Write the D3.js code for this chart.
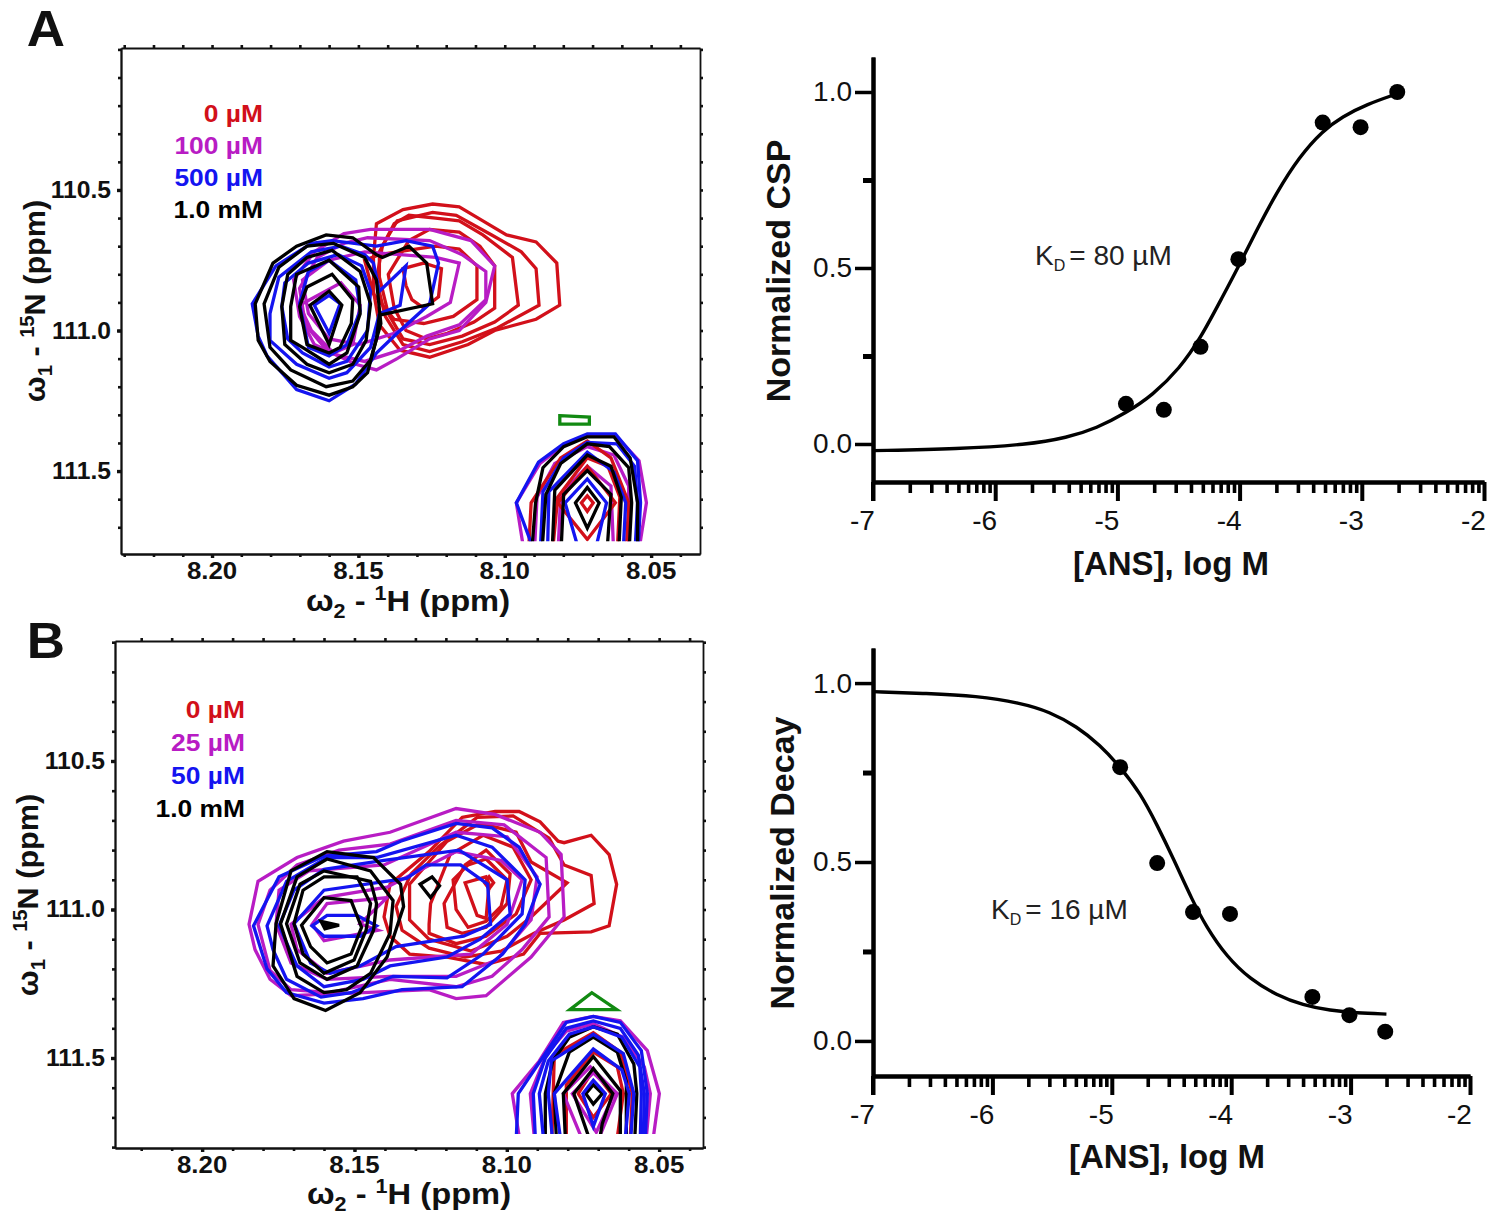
<!DOCTYPE html>
<html><head><meta charset="utf-8">
<script src="https://cdn.jsdelivr.net/npm/d3@7"></script>
<style>
html,body{margin:0;padding:0;background:#fff}
svg{display:block}
text{font-family:"Liberation Sans",Arial,sans-serif;fill:#111}
</style></head><body>
<svg id="c" width="1500" height="1214"></svg>
<script>
// ---------- colours / legends ----------
const RED="#d2101a", MAG="#b81cc4", BLUE="#1414f0", BLACK="#000", GREEN="#128a12";
const legendA=[["0 µM",RED],["100 µM",MAG],["500 µM",BLUE],["1.0 mM",BLACK]];
const legendB=[["0 µM",RED],["25 µM",MAG],["50 µM",BLUE],["1.0 mM",BLACK]];
const hTicks=[8.20,8.15,8.10,8.05];
const nTicks=[110.5,111.0,111.5];
// ---------- titration curves (x = log M) ----------
const doseX=[-4.93,-4.62,-4.32,-4.01,-3.32,-3.01,-2.71];
const cspY=[0.114,0.097,0.276,0.525,0.913,0.90,1.0];
const decayY=[0.765,0.497,0.36,0.355,0.123,0.072,0.026];
const cspCurve=[[-7,-0.019],[-6.3,-0.014],[-5.74,-0.002],[-5.41,0.018],[-5.17,0.045],[-4.93,0.088],[-4.71,0.139],[-4.49,0.215],[-4.32,0.30],[-4.14,0.418],[-4.01,0.503],[-3.86,0.608],[-3.70,0.713],[-3.51,0.817],[-3.32,0.89],[-3.16,0.93],[-2.96,0.965],[-2.71,0.995]];
const decayCurve=[[-7,0.976],[-6.55,0.971],[-6.13,0.964],[-5.77,0.945],[-5.52,0.92],[-5.29,0.878],[-5.10,0.827],[-4.93,0.766],[-4.76,0.692],[-4.62,0.603],[-4.485,0.51],[-4.32,0.389],[-4.21,0.32],[-4.04,0.236],[-3.84,0.172],[-3.62,0.128],[-3.40,0.10],[-3.17,0.085],[-2.95,0.078],[-2.70,0.075]];
const logMajor=[-7,-6,-5,-4,-3,-2];
const logMinorFactor=[2,3,4,5,6,7,8,9];
const yMajor=[0,0.5,1];
const yMinor=[0.25,0.75];
// ---------- peak reference positions [1H ppm, 15N ppm]; contours are [upfield 1H, 15N in 0.01 ppm] offsets ----------
const refA1=[8.16,110.9], refA2=[8.0718,111.613], refB1=[8.159,111.05], refB2=[8.0716,111.62];
const A1red=[
[[16,-28],[25,-33],[35,-35],[44,-34],[52,-29],[60,-24],[70,-21.5],[77,-14],[78,1],[70,6],[56,10],[47,15],[34,19.5],[24,17],[17,8],[15,-4],[15,-16]],
[[23,-29],[35,-32],[43,-31],[55,-24],[65,-18],[70,-12],[71,1],[57,9],[45,14],[34,17.5],[25,15],[19,5],[16,-8],[18,-20]],
[[22,-28],[27,-31],[36,-30],[44,-29],[52,-24],[62,-16],[64,1],[56,7],[45,12],[34,15],[25,13],[20,4],[17,-9],[17,-18]],
[[27,-22],[34,-26],[44,-25],[51,-20],[56,-13],[56,2],[49,7],[40,11],[33,13],[26,10],[22,2],[20,-10]],
[[12,-15],[17,-17],[36,-20],[44,-19],[50,-13],[50,-1],[42,5],[32,7.5],[22,6],[15,-3]],
[[25,-12],[32,-14],[38,-12],[37,-2],[32,2],[28,-1],[26,-6]]];
const A1mag=[
[[5,-24.5],[14,-26],[34,-26],[48,-22],[56,-13],[53,0],[44,10],[34,13],[23,20],[16,24],[9,22],[-5,15],[-10,5],[-12,-8],[-5,-18]],
[[13,-23],[34,-22],[45,-17],[53,-11],[53,-1],[44,8],[33,12],[24,17],[12,21],[0,18],[-8,8],[-10,-5],[-4,-16],[5,-21]],
[[36,-16],[44,-14],[41,0],[33,5],[22,11],[10,15],[0,13],[-7,4],[-9,-8],[0,-15],[12,-18]],
[[-10,1],[-6,10],[1.5,18],[8,15],[10.5,1],[4,-7]]];
const A1blue=[
[[-26,0.5],[-18,-13],[-6,-21],[1,-22],[16,-20],[26,-22],[35,-20],[37,-14],[34,0.5],[23,11],[16,18],[9,29],[0,35],[-11,31],[-21,19],[-24,12]],
[[15,-14],[17,-4],[26,-13],[24,1],[17,4],[14,16],[6,25],[0,27],[-11,22],[-20,13.5],[-20,4],[-17,-9],[-6,-18],[4,-20],[12,-17]],
[[-16,1.5],[-15,-7],[-7,-14],[3,-17],[11,-13],[14,-4],[13,10],[6,21],[0,23],[-9,18],[-14,13]],
[[-10,0.5],[-7,-11],[0,-15],[9,-8],[10.5,3],[6,15],[0,19],[-7,16]],
[[-5,1],[0,-2.5],[3.7,0.5],[0,11]]];
const A1black=[
[[-25,0.5],[-19,-14],[-11,-20],[-1,-24],[8,-23],[16,-17],[18,-16],[27,-20],[33,-14],[35,0.5],[17,4.5],[16,13],[13,25],[8,30],[0,33],[-11,29.5],[-20,21],[-24,13.5]],
[[-22,0.5],[-17,-12.5],[-7.5,-20],[1.5,-21],[12,-16],[16,-8],[17.5,7.5],[14,20.5],[8,28],[-1,30],[-13,24],[-20,16]],
[[-16,1.5],[-14,-10],[-7.5,-16],[1,-18.5],[10.5,-11],[14,0.5],[12.5,13.5],[8,22],[0,25],[-7.5,22],[-15,15]],
[[-13,1.5],[-11,-10],[0,-15],[10,-5.5],[10.5,4],[6,18],[0,22],[-9,16],[-13,13.5]],
[[-10,1.5],[-7.5,-5.5],[1,-10],[8,-1],[7.5,7.5],[3.7,16],[0,18],[-7.5,15]],
[[-6.5,1],[0,-4],[4.3,1],[0,15]]];
const A2green=[[[-9.3,-31],[0.7,-30.5],[0.7,-28],[-9.3,-28]]];
const A2mag=[[[-24,0],[-16,-14],[-8,-20.5],[0,-24],[9.5,-24],[17.5,-15],[20,0],[17,20],[-21,20]],
[[-18,20],[-17,-2],[-11,-14],[0,-20],[9,-17],[14,-6],[14,20]],
[[-10,20],[-9,-3],[0,-13],[8,-6],[9,20]]];
const A2red=[[[-20,20],[-19,0],[-9,-16],[0,-22],[8,-16],[14,0],[13,20]],
[[-12,20],[-10,-2],[0,-16],[7,-13],[11,-2],[10,20]],
[[-10,0],[0,-13],[9.5,0],[0,13]],
[[-2,0],[0,-2.5],[2,0],[0,3]]];
const A2blue=[[[-24,0],[-16.5,-14.5],[-8,-21],[0,-24.5],[9.5,-24.5],[17,-15],[18,0],[17,20],[-17,20]],
[[-16,20],[-15,-4],[-8,-16],[0,-21.5],[10,-21],[16,-13],[17,0],[16,20]],
[[-13.5,20],[-13,-4],[0,-18],[9,-11],[13,0],[12,20]],
[[-7.5,0],[0,-8.5],[6.5,0],[2,20],[-2,20]]];
const A2black=[[[-19,20],[-17.5,0],[-15,-12.5],[-8,-20],[0,-23.5],[9,-23.5],[14.5,-16],[17,0],[17,20]],
[[-15.5,20],[-14,-3],[-9,-14],[0,-21],[7.5,-20],[14,-12.5],[15,0],[14,20]],
[[-12,20],[-11,-4.5],[0,-17],[8,-13],[11.5,-2],[10.5,20]],
[[-9,20],[-8,-3],[0,-11.5],[8,-3],[6.5,20]],
[[-4,0],[0,-5.5],[4,0],[0,9]]];
const B1red=[
[[45,-36],[56,-38],[64,-38],[71,-34.5],[77,-28],[79,-27.5],[88,-30],[94,-23.5],[96.5,-13.5],[94,0.5],[88,2.5],[71,3],[65.5,10],[53,13.5],[40,11],[27.5,10],[21,4],[19,-2.5],[21,-13.5],[34,-24.5]],
[[37,-26],[50,-36],[62,-36.5],[74,-29],[79,-20],[88,-16.5],[89,-7],[79,-1.5],[69,3],[58,9],[46,11],[34,8],[25,2],[23,-6],[28,-17]],
[[27.5,-13.5],[40,-28],[51,-34],[63,-31],[68,-21],[80,-14],[68,-2.5],[60,4],[48,9],[34,5],[27.5,-1.5]],
[[34,0],[34.5,-7],[41,-23.5],[52,-30],[62,-26],[68,-15],[63,-3.5],[53,4],[43,6.5],[34,3]],
[[40,1],[39,-7],[46,-20],[53,-25],[61,-17],[60,-7],[53,1],[45,3]],
[[42,-15],[47,-20],[53,-22],[60,-15],[58,-6],[53,-1],[47,1],[43,-5]],
[[46,-14],[53,-16],[54,-13.5],[53,-2],[50,-3]],
[[52.5,-14],[54,-16],[55.5,-14],[54,-12]]];
const B1mag=[
[[-26,0],[-23,-14.5],[-10,-22.5],[5.5,-28],[21,-31],[43,-39],[56,-37],[71,-31],[78,-23.5],[79,-2.5],[68,11],[53,24],[43,25],[34,22],[12,23],[-12,24],[-19,18.5],[-24,8.5]],
[[-23,0],[-19,-11.5],[-10,-20],[4,-25],[21,-27],[43,-35],[59,-33.5],[73,-22.5],[74,-2.5],[65,8.5],[55,17.5],[43,21],[21,18.5],[1,23],[-12,22],[-19,15.5]],
[[-17,0],[-16,-11.5],[-6,-18],[19,-20],[43,-31],[60,-29.5],[70,-16],[68,-1.5],[56.5,12],[43,17.5],[21,17.5],[0,18.5],[-12,13]],
[[-12,0],[-1,-9],[20,-12.5],[43,-24.5],[58,-21.5],[65,-15],[60,0],[48,10],[21,12],[0,16.5],[-10,8.5]],
[[-5,0],[0,-7],[20,-9],[11,-0.2],[17,2],[-1,5.5]]];
const B1blue=[
[[-24.5,0.5],[-16,-16],[-1,-23],[16.5,-24.5],[24.5,-28],[43,-34],[55,-32.5],[64,-26],[71,-13.5],[66,0],[58.5,10],[45,21],[25,22],[12,25],[-1,26.5],[-13.5,23],[-20,15]],
[[-20,0.5],[-13.5,-14.5],[0,-22.5],[16.5,-22.5],[43,-30],[55,-26],[66,-15],[65,-3.5],[52,10],[40,18],[22,17.5],[8,23],[-2,24.5],[-13.5,18.5],[-18,8.5]],
[[-16,0.5],[-11,-11.5],[-1,-18.5],[19,-21.5],[44,-25],[60,-15],[61,-3.5],[51,5],[40,11],[21,14],[12,18.5],[-1,21],[-10,14]],
[[-11,-0.2],[-1,-11.5],[26.5,-15.5],[33,-20],[44.5,-20],[53.5,-13.5],[54.5,0],[45.5,4],[23,7.5],[11,14],[1,16.5],[-5.5,13]],
[[-5,0.5],[0,-3],[10,-3],[16.5,0.5],[11,4],[-1,4]]];
const B1black=[
[[-17,-0.2],[-12,-18],[0,-24.5],[15.5,-22.5],[24.5,-13.5],[25.5,-6],[20,11],[11,23],[-0.5,29],[-11,25],[-18,14]],
[[-15.5,-0.2],[-10,-16],[0,-22],[14.5,-18],[22,-8],[21,3],[14.5,16.5],[6.5,22],[-1,23],[-10,17.5]],
[[-13.5,-0.2],[-9,-13.5],[-1,-18],[14.5,-14.5],[16.5,-7],[15.5,2],[10,14],[0,18.5],[-9,13]],
[[-11,-0.2],[-8,-11.5],[-1,-16],[10,-16],[14.5,-7],[13,2],[9,12],[-1,16.5],[-8,10]],
[[-8.5,0.3],[-1,-9],[8,-8],[11.5,1],[8,10],[0,13],[-5.5,7.5]],
[[-2,-1],[4,0.3],[-0.7,1.5]],
[[31,-13.5],[35,-16],[37.5,-13],[34.5,-9]]];
const B2green=[[[-7.8,-28.3],[-0.5,-34],[7.8,-28.3]]];
const B2red=[[[-14,22],[-13,-13],[0,-20.5],[9,-14],[13,0],[12,22]],
[[-9,22],[-9,-3],[0,-14],[8,-9],[10,0],[7,22]],
[[-5,0],[0,-8],[6,0],[0,8]]];
const B2mag=[[[-27,0],[-18,-11],[-10,-24],[0,-26],[9,-24.5],[18,-14.5],[22,0],[19,22],[-23.5,22]],
[[-21,0],[-15.5,-13.5],[-9,-21],[0,-23.5],[10,-19],[17,-9],[19,0],[17,22],[-19,22]],
[[-10,0],[-1,-9],[8,0],[-1,22]],
[[-7,0],[0,-7],[7,0],[1,13]]];
const B2black=[[[-16,0],[-13.5,-11],[-8,-19],[0,-22.5],[8,-20],[13.5,-10],[14.5,0],[13.5,22],[-16,22]],
[[-13,0],[-8,-14],[0,-19],[8,-14],[11,-4],[11,22],[-12,22]],
[[-10,0],[0,-12.5],[9,-1],[9,22],[-9,22]],
[[-6.5,0],[0,-8.5],[6.5,0],[3,10],[1,22]],
[[-2.5,0],[0,-3],[3,0],[0,3.5]]];
const B2blue=[[[-25,0],[-17,-12],[-9,-24],[0,-26],[9,-24],[16,-14.5],[18,0],[17,22],[-26,22]],
[[-18,0],[-15,-11],[-8,-20],[0,-22.5],[9.5,-19],[15.5,-9],[16,0],[15.5,22],[-16,22]],
[[-20,0],[-16,-12],[-9,-22],[0,-24.5],[9,-22],[15,-13],[17,0],[16.5,22],[-19,22]],
[[-15,0],[-14,-11],[0,-20],[10,-13.5],[13.5,0],[12,22],[-13,22]],
[[-13,0],[0,-15],[9.5,-8],[12,0],[10,22],[-10,22]],
[[-3.5,0],[0,-4.5],[4,0],[0,11]]];

const svg=d3.select("#c");
const poly=d3.line().curve(d3.curveLinearClosed);

function richText(g,x,y,size,sx,parts,rotate){
  const t=g.append("text").attr("font-size",size).attr("font-weight","bold").attr("text-anchor","middle")
    .attr("transform",`translate(${x},${y})`+(rotate?` rotate(${rotate})`:"")+` scale(${sx},1)`);
  let prev=0;
  parts.forEach(p=>{
    const off=p.s==="sub"?size*0.24:p.s==="sup"?-size*0.36:0;
    const ts=t.append("tspan").text(p.t).attr("dy",off-prev);
    if(p.s) ts.attr("font-size",size*0.66);
    prev=off;
  });
}

function nmrPanel(o){
  const g=svg.append("g");
  const x=d3.scaleLinear().domain(o.xd).range(o.xr);
  const y=d3.scaleLinear().domain(o.yd).range(o.yr);
  const id="clip"+o.id;
  g.append("clipPath").attr("id",id).append("rect")
    .attr("x",o.xr[0]).attr("y",o.yr[0]).attr("width",o.xr[1]-o.xr[0]).attr("height",y(o.clipN)-o.yr[0]);
  const plot=g.append("g").attr("clip-path",`url(#${id})`);
  o.layers.forEach(([ref,contours,color])=>{
    plot.selectAll(null).data(contours).join("path")
      .attr("d",c=>poly(c.map(p=>[x(ref[0]-p[0]*o.hu),y(ref[1]+p[1]/100)])))
      .attr("fill",c=>(c.length===3&&color===BLACK)?BLACK:"none")
      .attr("stroke",color).attr("stroke-width",3.3).attr("stroke-linejoin","miter");
  });
  // frame with ticks on all four sides
  const hAll=d3.range(8.23,8.03,-0.01).map(v=>+v.toFixed(2)).filter(v=>v<=o.xd[0]&&v>=o.xd[1]);
  const nAll=d3.range(110.0,111.81,0.1).map(v=>+v.toFixed(1)).filter(v=>v>=o.yd[0]&&v<=o.yd[1]);
  const style=w=>a=>{a.selectAll("path").attr("stroke","#111").attr("stroke-width",1.8);
    a.selectAll("line").attr("stroke","#111").attr("stroke-width",w);a.selectAll("text").remove();};
  const mk=(gen,tx,ty,w)=>g.append("g").attr("transform",`translate(${tx},${ty})`).call(gen).call(style(w));
  mk(d3.axisBottom(x).tickValues(hAll).tickSize(3).tickSizeOuter(0),0,o.yr[1],2.6);
  mk(d3.axisTop(x).tickValues(hAll).tickSize(3).tickSizeOuter(0),0,o.yr[0],2.6);
  mk(d3.axisLeft(y).tickValues(nAll).tickSize(3).tickSizeOuter(0),o.xr[0],0,2.6);
  mk(d3.axisRight(y).tickValues(nAll).tickSize(3).tickSizeOuter(0),o.xr[1],0,2.6);
  mk(d3.axisBottom(x).tickValues(hTicks).tickSize(4).tickSizeOuter(0),0,o.yr[1],3.4);
  mk(d3.axisLeft(y).tickValues(nTicks).tickSize(4).tickSizeOuter(0),o.xr[0],0,3.4);
  hTicks.forEach(v=>g.append("text").attr("transform",`translate(${x(v)},${o.yr[1]+25}) scale(1.1,1)`).attr("text-anchor","middle")
    .attr("font-size",23.5).attr("font-weight","bold").text(v.toFixed(2)));
  nTicks.forEach(v=>g.append("text").attr("transform",`translate(${o.xr[0]-10},${y(v)+8}) scale(1.05,1)`).attr("text-anchor","end")
    .attr("font-size",23.5).attr("font-weight","bold").text(v.toFixed(1)));
  richText(g,o.xLab[0],o.xLab[1],30,1.09,[{t:"ω"},{t:"2",s:"sub"},{t:" - "},{t:"1",s:"sup"},{t:"H (ppm)"}]);
  richText(g,o.yLab[0],o.yLab[1],30,1.02,[{t:"ω"},{t:"1",s:"sub"},{t:" - "},{t:"15",s:"sup"},{t:"N (ppm)"}],-90);
  o.legend.forEach(([t,c],i)=>g.append("text").attr("transform",`translate(${o.legX},${o.legY+i*o.legDy}) scale(1.1,1)`).attr("text-anchor","end")
    .attr("font-size",24).attr("font-weight","bold").style("fill",c).text(t));
  g.append("text").attr("transform",`translate(${o.letter[0]},${o.letter[1]}) scale(1.06,1)`).attr("text-anchor","middle")
    .attr("font-size",50).attr("font-weight","bold").text(o.letter[2]);
}

nmrPanel({id:"A",xd:[8.2311,8.0333],xr:[121,700],yd:[109.995,111.795],yr:[48,554],clipN:111.75,hu:0.00101,
  legend:legendA,legX:263,legY:122,legDy:32,letter:[46,45.5,"A"],xLab:[408,611],yLab:[45,301],
  layers:[[refA1,A1red,RED],[refA1,A1mag,MAG],[refA1,A1blue,BLUE],[refA1,A1black,BLACK],
          [refA2,A2green,GREEN],[refA2,A2mag,MAG],[refA2,A2red,RED],[refA2,A2blue,BLUE],[refA2,A2black,BLACK]]});
nmrPanel({id:"B",xd:[8.2286,8.0356],xr:[115,703],yd:[110.096,111.803],yr:[641,1148],clipN:111.756,hu:0.000985,
  legend:legendB,legX:245,legY:718,legDy:33,letter:[46,658,"B"],xLab:[409,1204],yLab:[38,895],
  layers:[[refB1,B1red,RED],[refB1,B1mag,MAG],[refB1,B1blue,BLUE],[refB1,B1black,BLACK],
          [refB2,B2green,GREEN],[refB2,B2red,RED],[refB2,B2mag,MAG],[refB2,B2black,BLACK],[refB2,B2blue,BLUE]]});

function dosePanel(o){
  const g=svg.append("g");
  const x=d3.scaleLinear().domain([-7,-2]).range(o.xr);
  const y=d3.scaleLinear().domain(o.yd).range(o.yr);
  const minor=logMajor.slice(0,-1).flatMap(d=>logMinorFactor.map(f=>d+Math.log10(f)));
  const sAxis=w=>a=>{a.selectAll("path").attr("stroke","#000").attr("stroke-width",4);
    a.selectAll("line").attr("stroke","#000").attr("stroke-width",w);};
  const tx=a=>a.selectAll("text").attr("font-size",28).attr("font-family","Liberation Sans").attr("fill","#222");
  g.append("g").attr("transform",`translate(0,${o.yr[0]})`)
    .call(d3.axisBottom(x).tickValues(minor).tickSize(11).tickFormat("").tickSizeOuter(0)).call(sAxis(3.6));
  g.append("g").attr("transform",`translate(0,${o.yr[0]})`)
    .call(d3.axisBottom(x).tickValues(logMajor).tickSize(19).tickFormat(d=>d).tickPadding(9).tickSizeOuter(0)).call(sAxis(4))
    .call(tx).call(a=>a.selectAll("text").attr("dx",-11));
  g.append("g").attr("transform",`translate(${o.xr[0]},0)`)
    .call(d3.axisLeft(y).tickValues(yMinor).tickSize(10).tickFormat("").tickSizeOuter(0)).call(sAxis(5));
  g.append("g").attr("transform",`translate(${o.xr[0]},0)`)
    .call(d3.axisLeft(y).tickValues(yMajor).tickSize(18).tickFormat(d3.format(".1f")).tickPadding(3).tickSizeOuter(0)).call(sAxis(3.5))
    .call(tx);
  g.append("line").attr("x1",o.xr[0]).attr("x2",o.xr[0]).attr("y1",o.yr[0]).attr("y2",o.yr[0]+19).attr("stroke","#000").attr("stroke-width",4);
  g.append("path").attr("d",d3.line().x(d=>x(d[0])).y(d=>y(d[1])).curve(d3.curveBasis)(o.curve))
    .attr("fill","none").attr("stroke","#000").attr("stroke-width",3.4);
  g.selectAll("circle").data(doseX.map((d,i)=>[d,o.pts[i]])).join("circle")
    .attr("cx",d=>x(d[0])).attr("cy",d=>y(d[1])).attr("r",8).attr("fill","#000");
  g.append("text").attr("x",o.xLab[0]).attr("y",o.xLab[1]).attr("text-anchor","middle").attr("font-size",33).attr("font-weight","bold").text("[ANS], log M");
  g.append("text").attr("transform",`translate(${o.yLab[0]},${o.yLab[1]}) rotate(-90)`).attr("text-anchor","middle").attr("font-size",34).attr("font-weight","bold").text(o.yTitle);
  const k=g.append("text").attr("x",o.kd[0]).attr("y",o.kd[1]).attr("font-size",28).style("fill","#222");
  k.append("tspan").text("K");
  k.append("tspan").text("D").attr("font-size",16).attr("dy",6);
  k.append("tspan").text("= "+o.kdText).attr("dy",-6).attr("dx",4);
}
dosePanel({xr:[873,1484],yr:[482,57],yd:[-0.108,1.0994],pts:cspY,curve:cspCurve,xLab:[1171,575],yLab:[790,271],yTitle:"Normalized CSP",kd:[1035,265],kdText:"80 µM"});
dosePanel({xr:[873,1470],yr:[1076,648],yd:[-0.098,1.098],pts:decayY,curve:decayCurve,xLab:[1167,1168],yLab:[794,863],yTitle:"Normalized Decay",kd:[991,919],kdText:"16 µM"});
</script>
</body></html>
